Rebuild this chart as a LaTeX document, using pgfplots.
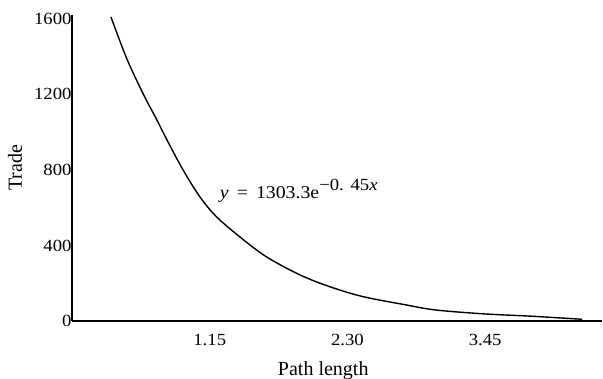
\documentclass[border=0pt]{standalone}
\usepackage{fontspec}
\setmainfont{Liberation Serif}
\newfontfamily\tickfont{Liberation Serif}[FakeStretch=1.1]
\usepackage{pgfplots}
\pgfplotsset{compat=1.18}
\begin{document}
\begin{tikzpicture}
\begin{axis}[
  scale only axis, width=530pt, height=306pt,
  xmin=0, xmax=4.425, ymin=0, ymax=1620,
  axis x line=bottom, axis y line=left,
  axis line style={-, line width=1.3pt},
  xtick={1.15,2.30,3.45}, xticklabels={1.15,2.30,3.45},
  ytick={0,400,800,1200,1600},
  major tick length=0pt,
  /pgf/number format/1000 sep={},
  /pgf/number format/assume math mode=true,
  tick label style={font=\tickfont\fontsize{17}{20}\selectfont},
  xticklabel style={yshift=-10pt},
  yticklabel style={xshift=3pt},
  xlabel={Path length}, ylabel={Trade},
  label style={font=\fontsize{20}{24}\selectfont},
  xlabel style={at={(axis description cs:0.474,0)}, anchor=base, yshift=-55pt},
  ylabel style={at={(axis description cs:-0.1075,0.50)}, anchor=center},
  clip=false,
]
\addplot[black, line width=1.4pt, smooth, tension=0.55] coordinates {
  (0.325,1610) (0.46,1385) (0.60,1195) (0.70,1075)
  (0.80,950) (0.928,799) (1.067,658) (1.206,552) (1.40,446)
  (1.623,340) (1.90,245) (2.15,182) (2.43,129) (2.79,85)
  (3.04,58) (3.455,37) (3.817,26) (4.26,9)
};
\node[anchor=base west, inner sep=0pt, font=\tickfont\fontsize{18}{20}\selectfont] at (axis cs:1.233,650)
  {\textit{y}\hspace{0.45em}=\hspace{0.45em}1303.3e\raisebox{0.45em}{\fontsize{17}{19}\selectfont −0.\hspace{0.4em}45\textit{x}}};
\end{axis}
\pgfresetboundingbox
\path ([xshift=-72pt,yshift=-58pt]current axis.south west) rectangle ++(603pt,379pt);
\end{tikzpicture}
\end{document}
